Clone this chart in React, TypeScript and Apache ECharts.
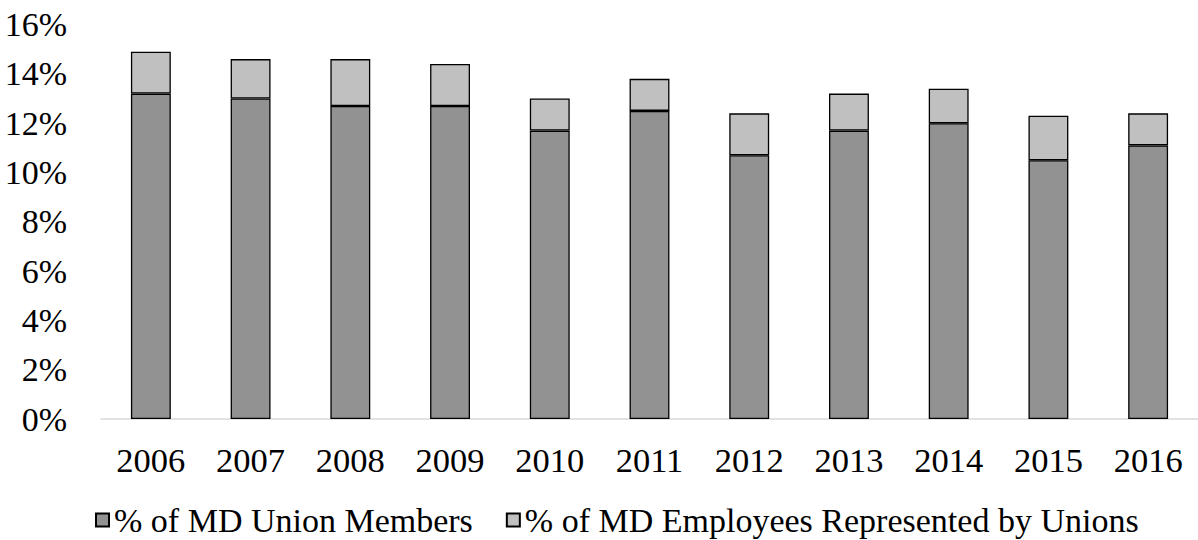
import React, { useEffect, useRef } from "react";
import * as echarts from "echarts";

const years = ["2006", "2007", "2008", "2009", "2010", "2011", "2012", "2013", "2014", "2015", "2016"];
const unionMembers = [13.2, 13.0, 12.7, 12.7, 11.7, 12.5, 10.7, 11.7, 12.0, 10.5, 11.1];
const representedByUnions = [14.9, 14.6, 14.6, 14.4, 13.0, 13.8, 12.4, 13.2, 13.4, 12.3, 12.4];
const seriesNames = ["% of MD Union Members", "% of MD Employees Represented by Unions"];

const FONT = "Times New Roman, Liberation Serif, serif";

export default function App() {
  const ref = useRef<HTMLDivElement>(null);
  useEffect(() => {
    if (!ref.current) return;
    const chart = echarts.init(ref.current, null, { renderer: "svg" });
    const topSegment = representedByUnions.map((v, i) => +(v - unionMembers[i]).toFixed(2));
    chart.setOption({
      animation: false,
      textStyle: { fontFamily: FONT },
      grid: { left: 101, right: -3, top: 24.6, bottom: 121, containLabel: false },
      legend: {
        data: seriesNames,
        top: 503,
        left: 95,
        padding: 0,
        itemGap: 33,
        itemWidth: 13,
        itemHeight: 13,
        icon: "rect",
        textStyle: { fontFamily: FONT, fontSize: 34, color: "#000" },
      },
      xAxis: {
        type: "category",
        data: years,
        axisLine: { lineStyle: { color: "#d9d9d9", width: 1.5 } },
        axisTick: { show: false },
        axisLabel: { fontFamily: FONT, fontSize: 34.5, color: "#000", margin: 23 },
      },
      yAxis: {
        type: "value",
        min: 0,
        max: 16,
        interval: 2,
        axisLine: { show: false },
        axisTick: { show: false },
        splitLine: { show: false },
        axisLabel: { fontFamily: FONT, fontSize: 34, color: "#000", margin: 34, formatter: "{value}%" },
      },
      series: [
        {
          name: seriesNames[0],
          type: "bar",
          stack: "total",
          barWidth: "40%",
          data: unionMembers,
          itemStyle: { color: "#929292", borderColor: "#000", borderWidth: 1.3 },
        },
        {
          name: seriesNames[1],
          type: "bar",
          stack: "total",
          barWidth: "40%",
          data: topSegment,
          itemStyle: { color: "#c0c0c0", borderColor: "#000", borderWidth: 1.3 },
        },
      ],
    });
    return () => chart.dispose();
  }, []);
  return <div ref={ref} style={{ position: "absolute", left: 0, top: 0, width: 1198, height: 540 }} />;
}
